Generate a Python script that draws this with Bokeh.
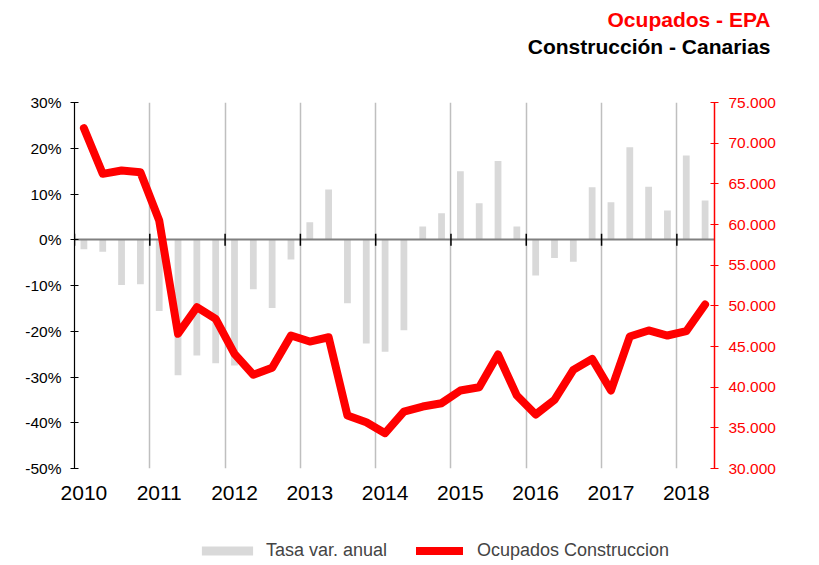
from bokeh.plotting import figure
from bokeh.models import (Range1d, LinearAxis, FixedTicker, Title, Legend, LegendItem)
from bokeh.layouts import column
from bokeh.embed import file_html
from bokeh.resources import INLINE

# ---- data ----
start_year = 2010
tasa = [-2.1, -2.6, -9.9, -9.7, -15.6, -29.6, -25.3, -27.0, -27.5, -10.8, -14.9, -4.3,
        3.8, 11.0, -13.9, -22.7, -24.5, -19.8, 2.9, 5.8, 15.0, 8.0, 17.2, 2.9,
        -7.8, -4.0, -4.8, 11.5, 8.2, 20.2, 11.6, 6.4, 18.4, 8.6]
ocupados = [71840, 66230, 66640, 66430, 60490, 46560, 49830, 48400, 44100, 41520, 42380, 46350,
            45610, 46140, 36520, 35690, 34340, 37000, 37620, 38030, 39590, 39990, 44020, 38970,
            36640, 38440, 42130, 43480, 39590, 46230, 46970, 46350, 46880, 50160]
years = [2010, 2011, 2012, 2013, 2014, 2015, 2016, 2017, 2018]
year_labels = ["2010", "2011", "2012", "2013", "2014", "2015", "2016", "2017", "2018"]
left_ticks = [-50, -40, -30, -20, -10, 0, 10, 20, 30]
left_labels = ["-50%", "-40%", "-30%", "-20%", "-10%", "0%", "10%", "20%", "30%"]
right_ticks = [30000, 35000, 40000, 45000, 50000, 55000, 60000, 65000, 70000, 75000]
right_labels = ["30.000", "35.000", "40.000", "45.000", "50.000", "55.000", "60.000",
                "65.000", "70.000", "75.000"]
title1 = "Ocupados - EPA"
title2 = "Construcción - Canarias"
legend_bar = "Tasa var. anual"
legend_line = "Ocupados Construccion"

xq = [start_year + (i + 0.5) / 4 for i in range(len(tasa))]

FONT = "Liberation Sans"
RED = "#FF0000"
GRAY_BAR = "#D9D9D9"
W = 817


def strip(height, top=0):
    f = figure(width=W, height=height, output_backend="svg", toolbar_location=None,
               x_axis_type=None, y_axis_type=None,
               min_border_left=74, min_border_right=103, min_border_top=top,
               min_border_bottom=0, x_range=Range1d(0, 1), y_range=Range1d(0, 1))
    f.outline_line_color = None
    f.xgrid.visible = False
    f.ygrid.visible = False
    f.border_fill_color = "white"
    return f


# ---- title strip ----
tf = strip(92, top=58)
tf.add_layout(Title(text=title2, align="right", offset=-56, standoff=2, text_font=FONT,
                    text_font_size="21px", text_font_style="bold", text_color="#000000"), "above")
tf.add_layout(Title(text=title1, align="right", offset=-56, standoff=2, text_font=FONT,
                    text_font_size="21px", text_font_style="bold", text_color=RED), "above")

# ---- main chart ----
p = figure(width=W, height=428, output_backend="svg", toolbar_location=None,
           x_range=Range1d(2010, 2018.5), y_range=Range1d(-50, 30),
           min_border_left=74, min_border_right=103, min_border_top=10, min_border_bottom=52,
           title=None)
p.outline_line_color = None
p.background_fill_color = "white"
p.border_fill_color = "white"
p.extra_y_ranges = {"right": Range1d(30000, 75000)}

p.ygrid.visible = False
p.xgrid.ticker = FixedTicker(ticks=years[1:])
p.xgrid.grid_line_color = "#BFBFBF"
p.xgrid.grid_line_width = 1.5

xa = p.xaxis[0]
label_pos = [y + 0.125 for y in years]
xa.ticker = FixedTicker(ticks=label_pos)
xa.major_label_overrides = {lp: lab for lp, lab in zip(label_pos, year_labels)}
xa.axis_line_color = None
xa.major_tick_line_color = None
xa.minor_tick_line_color = None
xa.major_label_text_font = FONT
xa.major_label_text_font_size = "21px"
xa.major_label_text_color = "#000000"
xa.major_label_standoff = 11

ya = p.yaxis[0]
ya.ticker = FixedTicker(ticks=left_ticks)
ya.major_label_overrides = {t: l for t, l in zip(left_ticks, left_labels)}
ya.axis_line_color = "#000000"
ya.axis_line_width = 1.2
ya.major_tick_line_color = "#000000"
ya.major_tick_in = 4
ya.major_tick_out = 4
ya.minor_tick_line_color = None
ya.major_label_text_font = FONT
ya.major_label_text_font_size = "15.5px"
ya.major_label_text_color = "#000000"
ya.major_label_standoff = 9

ra = LinearAxis(y_range_name="right", ticker=FixedTicker(ticks=right_ticks))
ra.major_label_overrides = {t: l for t, l in zip(right_ticks, right_labels)}
ra.axis_line_color = RED
ra.axis_line_width = 1.5
ra.major_tick_line_color = RED
ra.major_tick_in = 4
ra.major_tick_out = 4
ra.minor_tick_line_color = None
ra.major_label_text_font = FONT
ra.major_label_text_font_size = "15.5px"
ra.major_label_text_color = RED
ra.major_label_standoff = 10
p.add_layout(ra, "right")

p.vbar(x=xq, top=tasa, bottom=0, width=0.09, fill_color=GRAY_BAR, line_color=None)
p.hspan(y=[0], line_color="#808080", line_width=2)
p.segment(x0=years, x1=years, y0=[-1.3] * len(years), y1=[1.3] * len(years),
          line_color="#000000", line_width=1.5)
p.line(x=xq, y=ocupados, y_range_name="right", line_color=RED, line_width=8,
       line_cap="round", line_join="round")

# ---- legend strip (same series as hidden renderers; only the legends show) ----
lf = strip(43)
lb = lf.vbar(x=xq, top=tasa, width=0.09, fill_color=GRAY_BAR, line_color=None, visible=False)
ll = lf.line(x=xq, y=ocupados, line_color=RED, line_width=8, line_cap="round", visible=False)
common = dict(orientation="horizontal", padding=0, margin=0, border_line_color=None,
              background_fill_alpha=0, label_text_font=FONT, label_text_font_size="18px",
              label_height=20, glyph_height=11)
leg1 = Legend(items=[LegendItem(label=legend_bar, renderers=[lb])],
              location=(121, 2), glyph_width=64, label_standoff=7, **common)
leg2 = Legend(items=[LegendItem(label=legend_line, renderers=[ll])],
              location=(342, 2), glyph_width=47, label_standoff=14, **common)
lf.add_layout(leg1, "center")
lf.add_layout(leg2, "center")

layout = column(tf, p, lf, spacing=0)
open("out.html", "w").write(file_html(layout, INLINE))
